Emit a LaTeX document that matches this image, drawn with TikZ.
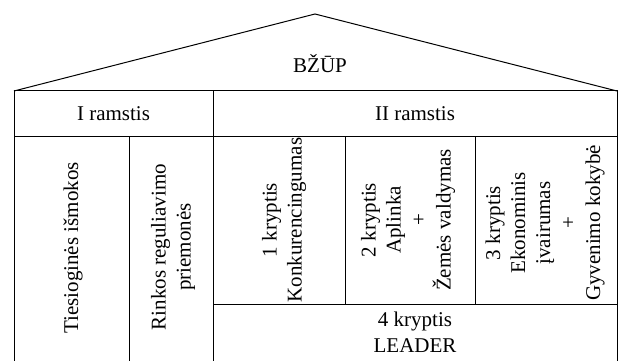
\documentclass[tikz,border=0pt]{standalone}
\usepackage{fontspec}
\setmainfont{Liberation Serif}
\usepackage{tikz}
\usetikzlibrary{calc}
\tikzset{
	lbl/.style={font=\fontsize{21}{25}\selectfont, inner sep=0pt},
	vlbl/.style={lbl, rotate=90, align=center},
}
\begin{document}
\begin{tikzpicture}[x=1pt,y=1pt,line width=1pt]
		\useasboundingbox (0,0) rectangle (619,361);
		% roof
		\coordinate (top) at (315,347);
		\coordinate (L) at (14,270);
		\coordinate (R) at (617,270);
		\coordinate (BL) at (14,0);
		\coordinate (BR) at (617,0);
		\draw (L) -- (top) -- (R);
		\draw (BL) -- (L) -- (R) -- (BR);
		% pillars
		\coordinate (h1) at (14,224);
		\coordinate (h2) at (617,224);
		\draw (h1) -- (h2);
		\coordinate (m1) at (213,270);
		\coordinate (m2) at (213,0);
		\draw (m1) -- (m2);
		\coordinate (a1) at (129,224);
		\coordinate (a2) at (129,0);
		\draw (a1) -- (a2);
		\coordinate (q1) at (213,56);
		\coordinate (q2) at (617,56);
		\draw (q1) -- (q2);
		\coordinate (b1) at (345,224);
		\coordinate (b2) at (345,56);
		\draw (b1) -- (b2);
		\coordinate (c1) at (475,224);
		\coordinate (c2) at (475,56);
		\draw (c1) -- (c2);
		% labels
		\node[lbl,anchor=base] (bzup) at (320,288) {BŽŪP};
		\node[lbl,anchor=base] (r1) at (113.5,240) {I ramstis};
		\node[lbl,anchor=base] (r2) at (415,240) {II ramstis};
		\node[vlbl] (t1) at (73,113) {Tiesioginės išmokos};
		\node[vlbl] (t2) at (173,114) {Rinkos reguliavimo\\priemonės};
		\node[vlbl] (k1) at (284,141) {1 kryptis\\Konkurencingumas};
		\node[vlbl] (k2) at (408,141) {2 kryptis\\Aplinka\\+\\Žemės valdymas};
		\node[vlbl] (k3) at (545,138) {3 kryptis\\Ekonominis\\įvairumas\\+\\Gyvenimo kokybė};
		\node[lbl,anchor=base,align=center] (k4) at (415,34) {4 kryptis};
		\node[lbl,anchor=base] (ldr) at (415,8) {LEADER};
	\end{tikzpicture}
\end{document}
